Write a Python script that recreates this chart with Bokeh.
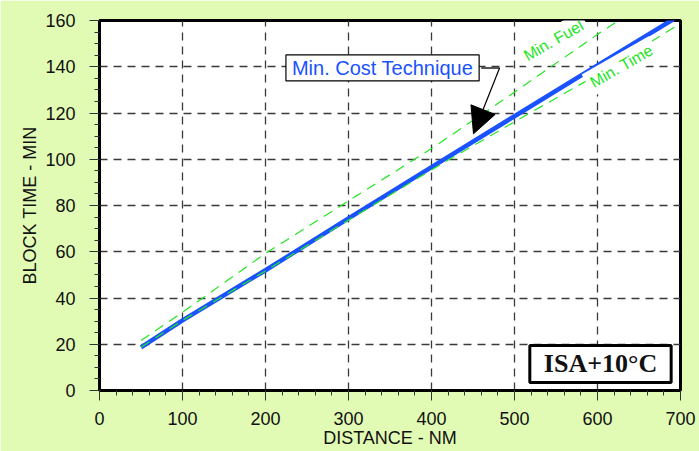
from bokeh.plotting import figure
from bokeh.models import (Range1d, SingleIntervalTicker, Label, Arrow, NormalHead)
from bokeh.embed import file_html
from bokeh.resources import INLINE

# Block time vs. stage distance, ISA+10°C
distance_nm = [50, 100, 200, 300, 400, 500, 600, 700]
min_cost_min = [18.6, 30.3, 52.0, 74.4, 96.6, 118.6, 140.6, 162.4]
min_time_min = [18.7, 30.3, 51.7, 73.7, 95.4, 116.2, 136.6, 158.7]
min_fuel_min = [21.6, 33.8, 59.3, 82.0, 104.6, 129.0, 154.0, 177.5]

x_ticks = [0, 100, 200, 300, 400, 500, 600, 700]
y_ticks = [0, 20, 40, 60, 80, 100, 120, 140, 160]

# Callout: box anchor, leader elbow and arrow tip (data units)
callout_text = "Min. Cost Technique"
callout_xy = (341, 139.5)
leader_x = [460, 482]
leader_y = [139.5, 139.5]
arrow_tip = (450.6, 111.0)

BG = "#e1fbb4"
BLUE = "#1a52ff"
GREEN = "#22e622"
SANS = "Liberation Sans"

p = figure(width=699, height=451, output_backend="svg", toolbar_location=None,
           x_range=Range1d(0, 700), y_range=Range1d(0, 160),
           min_border_left=99, min_border_right=19,
           min_border_top=20, min_border_bottom=61)
p.border_fill_color = BG
p.background_fill_color = "white"
p.outline_line_color = "black"
p.outline_line_width = 3

p.xaxis.ticker = SingleIntervalTicker(interval=100, num_minor_ticks=5)
p.yaxis.ticker = SingleIntervalTicker(interval=20, num_minor_ticks=4)

for ax in (p.xaxis, p.yaxis):
    ax.axis_line_width = 3
    ax.axis_line_color = "black"
    ax.major_tick_out = 10
    ax.major_tick_in = 0
    ax.minor_tick_out = 5
    ax.minor_tick_in = 0
    ax.major_tick_line_color = "#333333"
    ax.minor_tick_line_color = "#333333"
    ax.major_label_text_font = SANS
    ax.major_label_text_font_size = "18px"
    ax.major_label_text_color = "#111111"
    ax.axis_label_text_font = SANS
    ax.axis_label_text_font_size = "18px"
    ax.axis_label_text_font_style = "normal"
    ax.axis_label_text_color = "#111111"

p.xaxis.axis_label = "DISTANCE - NM"
p.yaxis.axis_label = "BLOCK TIME - MIN"
p.xaxis.major_label_standoff = 11
p.xaxis.axis_label_standoff = 0
p.yaxis.major_label_standoff = 14
p.yaxis.axis_label_standoff = 2

for g in (p.xgrid, p.ygrid):
    g.grid_line_color = "#3a3a3a"
    g.grid_line_width = 1.3
    g.grid_line_dash = "8 6"

p.line(distance_nm, min_cost_min, line_color=BLUE, line_width=4.5)
p.line(distance_nm, min_time_min, line_color=GREEN, line_width=1.2, line_dash="10 7")
p.line(distance_nm, min_fuel_min, line_color=GREEN, line_width=1.2, line_dash="10 7")

# Rotated curve names with white backing
p.add_layout(Label(x=547, y=151.4, text="Min. Fuel", angle=0.52,
                   text_align="center", text_baseline="middle",
                   text_font=SANS, text_font_size="16px", text_color=GREEN,
                   background_fill_color="white",
                   padding=dict(left=4, right=4, top=4, bottom=4)))
p.add_layout(Label(x=629, y=140.3, text="Min. Time", angle=0.52,
                   text_align="center", text_baseline="middle",
                   text_font=SANS, text_font_size="16px", text_color=GREEN,
                   background_fill_color="white",
                   padding=dict(left=4, right=4, top=4, bottom=4)))

# Leader and arrow for the min-cost curve
p.line(leader_x, leader_y, line_color="#555555", line_width=2)
p.add_layout(Arrow(end=NormalHead(size=26, fill_color="black", line_color="black"),
                   x_start=leader_x[1], y_start=leader_y[1],
                   x_end=arrow_tip[0], y_end=arrow_tip[1],
                   line_color="black", line_width=1.2))
p.add_layout(Label(x=callout_xy[0], y=callout_xy[1], text=callout_text,
                   text_align="center", text_baseline="middle",
                   text_font=SANS, text_font_size="20px", text_color=BLUE,
                   background_fill_color="white", border_line_color="black",
                   border_line_width=1.2,
                   padding=dict(left=6, right=6, top=2, bottom=2)))

# Temperature condition tag
p.add_layout(Label(x=603.6, y=11.5, text="ISA+10°C",
                   text_align="center", text_baseline="middle",
                   text_font="Liberation Serif", text_font_size="26px",
                   text_font_style="bold", text_color="#111111",
                   background_fill_color="white", border_line_color="black",
                   border_line_width=3,
                   padding=dict(left=14, right=14, top=4, bottom=4)))

open("out.html", "w").write(file_html(p, INLINE))
